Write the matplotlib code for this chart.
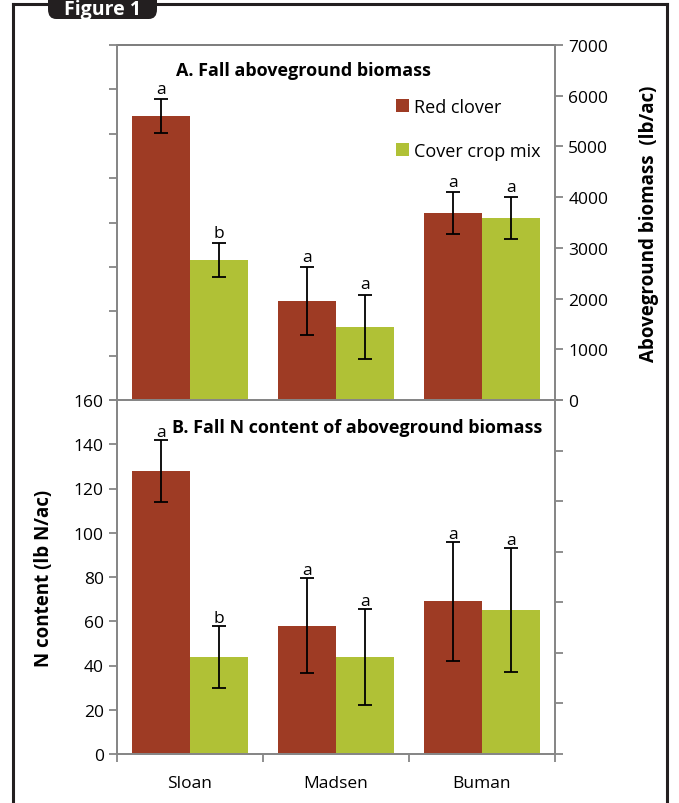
import matplotlib
matplotlib.use("Agg")
import matplotlib.pyplot as plt
import numpy as np
from matplotlib.patches import FancyBboxPatch
from matplotlib.lines import Line2D

plt.rcParams['font.family'] = ['Open Sans', 'DejaVu Sans']

sites = ["Sloan", "Madsen", "Buman"]
series = ["Red clover", "Cover crop mix"]
colors = ["#9E3B24", "#B0C136"]

# A. fall aboveground biomass (lb/ac)
biomass = [[5600, 1950, 3690], [2760, 1440, 3590]]
biomass_err = [[340, 670, 410], [330, 640, 410]]
biomass_letters = [["a", "a", "a"], ["b", "a", "a"]]

# B. fall N content (lb N/ac)
ncontent = [[128, 58, 69], [44, 44, 65]]
ncontent_err = [[14, 21.5, 27], [14, 21.7, 28]]
ncontent_letters = [["a", "a", "a"], ["b", "a", "a"]]

GRAY = "#868686"
W, H = 679, 804
fig = plt.figure(figsize=(W / 100, H / 100), dpi=100)

x0, x1 = 117 / W, 555 / W
ax_top = fig.add_axes([x0, (H - 401) / H, x1 - x0, 355 / H])
ax_bot = fig.add_axes([x0, (H - 755) / H, x1 - x0, 354 / H])

x = np.arange(len(sites))
bw = 0.4


def draw_bars(ax, vals, errs, letters, pad):
    for i in range(2):
        xs = x + (i - 0.5) * bw
        ax.bar(xs, vals[i], bw, color=colors[i], label=series[i], zorder=2)
        ax.errorbar(xs, vals[i], yerr=errs[i], fmt="none", ecolor="black",
                    elinewidth=1.3, capsize=5, capthick=1.3, zorder=3)
        for xi, v, e, t in zip(xs, vals[i], errs[i], letters[i]):
            ax.annotate(t, (xi, v + e), xytext=(0, pad), textcoords="offset points",
                        ha="center", va="bottom", fontsize=12.5)


def style(ax):
    for s in ax.spines.values():
        s.set_color(GRAY)
        s.set_linewidth(1.3)
    ax.tick_params(axis="both", colors=GRAY, labelcolor="black", labelsize=12.5,
                   length=6, width=1.3, direction="out")
    ax.set_xlim(-0.5, 2.5)


# top panel: biomass, labels on the right
draw_bars(ax_top, biomass, biomass_err, biomass_letters, 1.5)
tl = ax_top.twinx()
tl.set_ylim(160, 320)
tl.set_yticks(np.arange(160, 321, 20))
tl.set_yticklabels([])
tl.yaxis.tick_left()
style(tl)
style(ax_top)
ax_top.set_ylim(0, 7000)
ax_top.set_yticks(np.arange(0, 7001, 1000))
ax_top.yaxis.tick_right()
ax_top.yaxis.set_label_position("right")
ax_top.set_ylabel("Aboveground biomass  (lb/ac)", fontsize=13.5, fontweight="bold", labelpad=22)
ax_top.spines["top"].set_color("#333333")
ax_top.set_xticks([])
ax_top.text(0.135, 0.93, "A. Fall aboveground biomass", transform=ax_top.transAxes,
            fontsize=13, fontweight="bold", va="center")
ax_top.legend(loc="upper left", bbox_to_anchor=(0.638, 0.852), frameon=False, fontsize=13,
              handlelength=0.7, handleheight=0.7, handletextpad=0.25, labelspacing=1.45,
              borderpad=0, borderaxespad=0)

# bottom panel: N content, labels on the left
draw_bars(ax_bot, ncontent, ncontent_err, ncontent_letters, 0)
br = ax_bot.twinx()
br.set_ylim(-7000, 0)
br.set_yticks(np.arange(-7000, 1, 1000))
br.set_yticklabels([])
style(br)
style(ax_bot)
ax_bot.set_ylim(0, 160)
ax_bot.set_yticks(np.arange(0, 161, 20))
ax_bot.yaxis.tick_left()
ax_bot.set_ylabel("N content (lb N/ac)", fontsize=13.5, fontweight="bold", labelpad=14)
ax_bot.set_xticks([-0.5, 0.5, 1.5, 2.5])
ax_bot.set_xticklabels([])
ax_bot.set_xticks(x, minor=True)
ax_bot.set_xticklabels(sites, minor=True, fontsize=12.5)
ax_bot.tick_params(axis="x", which="minor", length=0, pad=15)
ax_bot.text(0.125, 0.925, "B. Fall N content of aboveground biomass", transform=ax_bot.transAxes,
            fontsize=13, fontweight="bold", va="center")

# frame and tab
frame = [Line2D([13 / W, 13 / W], [0, 1 - 5 / H]),
         Line2D([13 / W, 667 / W], [1 - 5 / H, 1 - 5 / H]),
         Line2D([667 / W, 667 / W], [1 - 5 / H, 0])]
for ln in frame:
    ln.set_color("#231F20")
    ln.set_linewidth(2.2)
    ln.set_transform(fig.transFigure)
    fig.add_artist(ln)
tab = FancyBboxPatch((48 / W, 1 - 20 / H), 109 / W, 40 / H,
                     boxstyle="round,pad=0,rounding_size=0.012",
                     transform=fig.transFigure, facecolor="#231F20", edgecolor="none", zorder=5)
fig.add_artist(tab)
fig.text(102 / W, 1 - 9.5 / H, "Figure 1", color="white", fontsize=14, fontweight="bold",
         ha="center", va="center", zorder=6)

fig.savefig("out.png", dpi=100)
